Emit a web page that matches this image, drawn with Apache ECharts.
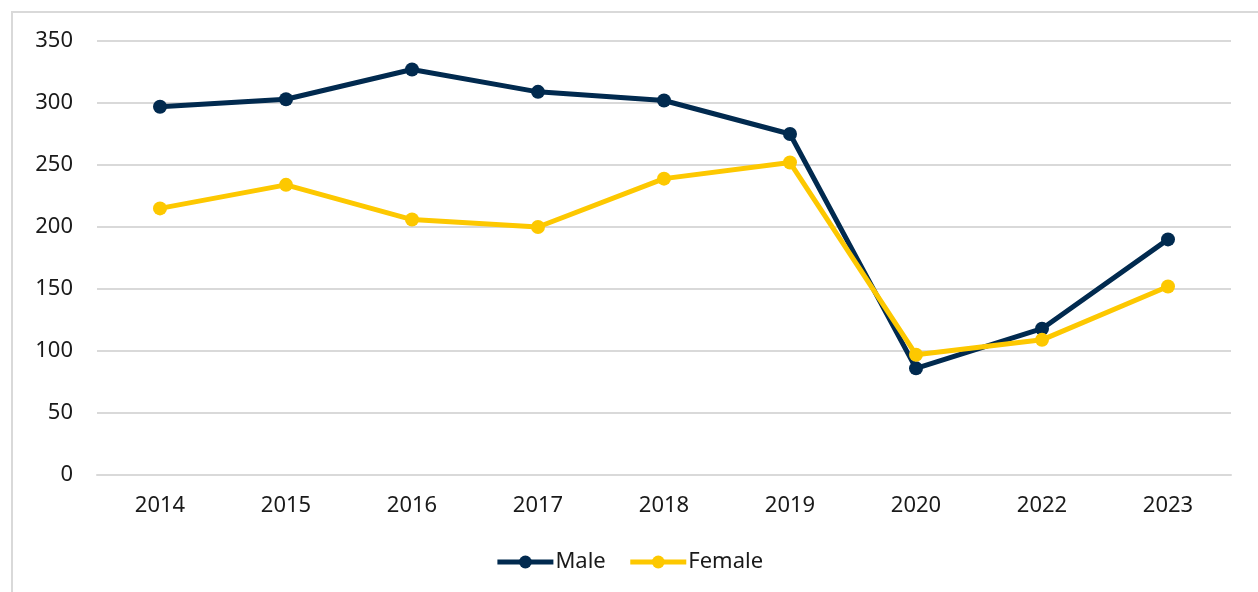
<!DOCTYPE html>
<html>
<head>
<meta charset="utf-8">
<script src="https://cdn.jsdelivr.net/npm/echarts@6/dist/echarts.min.js"></script>
<style>
    html, body { margin: 0; padding: 0; background: #fff; }
    #chart { width: 1258px; height: 592px; }
</style>
</head>
<body>
<div id="chart"></div>
<script>
    var years = ['2014', '2015', '2016', '2017', '2018', '2019', '2020', '2022', '2023'];
    var male = [297, 303, 327, 309, 302, 275, 86, 118, 190];
    var female = [215, 234, 206, 200, 239, 252, 97, 109, 152];
    var yTicks = {min: 0, max: 350, interval: 50};

    var font = 'Noto Sans';
    var option = {
        animation: false,
        graphic: [{
            type: 'rect',
            shape: {x: 12, y: 12, width: 1400, height: 800},
            style: {fill: 'none', stroke: '#d9d9d9', lineWidth: 2},
            silent: true
        }],
        grid: {left: 97, right: 27, top: 41, bottom: 117},
        legend: {
            data: ['Male', 'Female'],
            bottom: 14,
            left: 'center',
            itemWidth: 56,
            itemHeight: 16,
            itemGap: 22,
            lineStyle: {width: 5},
            textStyle: {fontFamily: font, fontSize: 22, color: '#1a1a1a', padding: [0, 0, 0, -3]}
        },
        xAxis: {
            type: 'category',
            data: years,
            boundaryGap: true,
            axisLine: {show: true, lineStyle: {color: '#d9d9d9', width: 2}},
            axisTick: {show: false},
            axisLabel: {fontFamily: font, fontSize: 22, color: '#1a1a1a', margin: 20}
        },
        yAxis: {
            type: 'value',
            min: yTicks.min,
            max: yTicks.max,
            interval: yTicks.interval,
            axisLine: {show: false},
            axisTick: {show: false},
            splitLine: {lineStyle: {color: '#d9d9d9', width: 2}},
            axisLabel: {fontFamily: font, fontSize: 22, color: '#1a1a1a', margin: 24}
        },
        series: [{
            name: 'Male',
            type: 'line',
            data: male,
            symbol: 'circle',
            symbolSize: 14,
            lineStyle: {width: 5, color: '#012a4f'},
            itemStyle: {color: '#012a4f'}
        }, {
            name: 'Female',
            type: 'line',
            data: female,
            symbol: 'circle',
            symbolSize: 14,
            lineStyle: {width: 5, color: '#fdc800'},
            itemStyle: {color: '#fdc800'}
        }]
    };
    var chart = echarts.init(document.getElementById('chart'));
    chart.setOption(option);
</script>
</body>
</html>
